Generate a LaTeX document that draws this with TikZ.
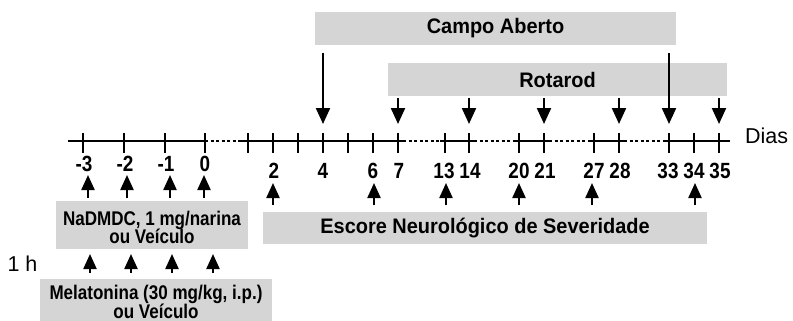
\documentclass[tikz,border=0pt]{standalone}
\usepackage{fontspec}
\setmainfont{Liberation Sans}
\newfontfamily\boxfont{Liberation Sans}[FakeStretch=0.95]
\newfontfamily\narrowfont{Liberation Sans}[FakeStretch=0.86]
\usetikzlibrary{arrows.meta}
\definecolor{boxgray}{RGB}{213,213,213}
\begin{document}
\begin{tikzpicture}[x=1pt,y=-1pt,
  box/.style={fill=boxgray,draw=none,inner sep=0pt,align=center},
  bigtxt/.style={font=\boxfont\bfseries\fontsize{21}{22}\selectfont},
  smalltxt/.style={font=\narrowfont\bfseries\fontsize{19.8}{17}\selectfont,inner sep=0pt,anchor=base},
  lbl/.style={font=\narrowfont\bfseries\fontsize{22}{22}\selectfont,inner sep=0pt},
  axisline/.style={line width=2pt},
  dotline/.style={line width=1.5pt,dash pattern=on 3pt off 2.5pt},
  tickmark/.style={line width=2pt},
  arr/.style={line width=2.2pt,-{Triangle[width=14pt,length=16pt]}},
  uparr/.style={line width=2.2pt,-{Triangle[width=13pt,length=15pt]}},
]
\useasboundingbox (0,0) rectangle (793,321);

% boxes
\node[box,bigtxt,minimum width=361pt,minimum height=33pt] (campo) at (495.5,28.5) {Campo Aberto};
\node[box,bigtxt,minimum width=339pt,minimum height=33pt] (rota) at (557.5,79.5) {Rotarod};
\node[box,bigtxt,minimum width=444pt,minimum height=32pt] (escore) at (485,228) {Escore Neurológico de Severidade};
\node[box,minimum width=192pt,minimum height=48pt] (nadmdc) at (152,225) {};
\node[smalltxt] (nadtxta) at (152,225.5) {NaDMDC, 1 mg/narina};
\node[smalltxt] (nadtxtb) at (152,243.5) {ou Veículo};
\node[box,minimum width=232pt,minimum height=52pt] (mela) at (156,305) {};
\node[smalltxt] (melatxta) at (156,299) {Melatonina (30 mg/kg, i.p.)};
\node[smalltxt] (melatxtb) at (156,318) {ou Veículo};

% axis
\coordinate (a0) at (68,141);
\coordinate (a1) at (205,141);
\coordinate (a2) at (240,141);
\coordinate (a3) at (403,141);
\coordinate (a4) at (440,141);
\coordinate (a5) at (474,141);
\coordinate (a6) at (514,141);
\coordinate (a7) at (549,141);
\coordinate (a8) at (589,141);
\coordinate (a9) at (624,141);
\coordinate (a10) at (664,141);
\coordinate (a11) at (730,141);
\draw[axisline] (a0) -- (a1);
\draw[dotline] (a1) -- (a2);
\draw[axisline] (a2) -- (a3);
\draw[dotline] (a3) -- (a4);
\draw[axisline] (a4) -- (a5);
\draw[dotline] (a5) -- (a6);
\draw[axisline] (a6) -- (a7);
\draw[dotline] (a7) -- (a8);
\draw[axisline] (a8) -- (a9);
\draw[dotline] (a9) -- (a10);
\draw[axisline] (a10) -- (a11);

% ticks
\foreach \x in {83,124,165,205,248,273,298,323,348,373,398,445,469,519,544,594,619,669,694,719}{
  \coordinate (tt\x) at (\x,133);
  \coordinate (tb\x) at (\x,153);
  \draw[tickmark] (tt\x) -- (tb\x);
}

% labels
\foreach \x/\t in {84/-3,125/-2,166/-1,205/0}{
  \node[lbl,anchor=base] (l\x) at (\x,171) {\t};
}
\foreach \x/\t in {274/2,323/4,373/6,399/7,444/13,470/14,519/20,545/21,594/27,620/28,668/33,694/34,720/35}{
  \node[lbl,anchor=base] (l\x) at (\x,178) {\t};
}
\node[font=\fontsize{21.5}{24}\selectfont,inner sep=0pt,anchor=base] (dias) at (766.5,143) {Dias};
\node[font=\fontsize{21.5}{24}\selectfont,inner sep=0pt,anchor=base] (oneh) at (22.5,271) {1 h};

% Campo Aberto arrows
\foreach \x in {323,669}{
  \coordinate (cs\x) at (\x,53);
  \coordinate (ce\x) at (\x,124);
  \draw[arr] (cs\x) -- (ce\x);
}
% Rotarod arrows
\foreach \x in {398,469,544,619,719}{
  \coordinate (rs\x) at (\x,98);
  \coordinate (re\x) at (\x,124);
  \draw[arr] (rs\x) -- (re\x);
}
% NaDMDC arrows
\foreach \x in {88,127,170,204}{
  \coordinate (ns\x) at (\x,198);
  \coordinate (ne\x) at (\x,175);
  \draw[uparr] (ns\x) -- (ne\x);
}
% Escore arrows
\foreach \x in {273,374,446,519,592,695}{
  \coordinate (es\x) at (\x,205);
  \coordinate (ee\x) at (\x,183);
  \draw[uparr] (es\x) -- (ee\x);
}
% Melatonina arrows
\foreach \x in {90,131,172,213}{
  \coordinate (ms\x) at (\x,273);
  \coordinate (me\x) at (\x,254);
  \draw[uparr] (ms\x) -- (me\x);
}
\end{tikzpicture}
\end{document}
